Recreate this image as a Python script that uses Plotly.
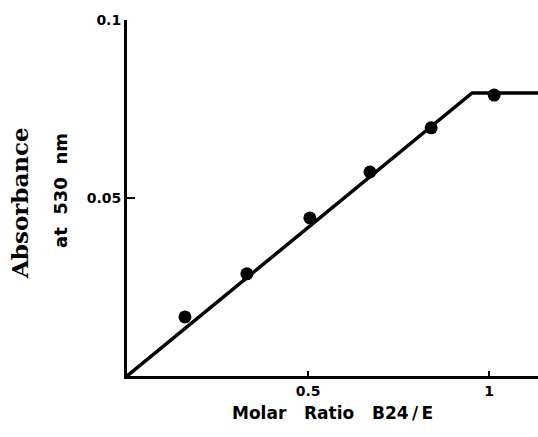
import plotly.graph_objects as go

# Measured points
ratio = [0.160, 0.331, 0.505, 0.671, 0.840, 1.014]
absorb = [0.0166, 0.0287, 0.0444, 0.0573, 0.0697, 0.0789]

# Fitted line (titration break)
line_x = [0.0, 0.953, 1.135]
line_y = [0.0, 0.0795, 0.0795]

x_tickvals = [0.5, 1.0]
x_ticktext = ["0.5", "1"]
y_tickvals = [0.05, 0.1]
y_ticktext = ["0.05", "0.1"]

fig = go.Figure()
fig.add_trace(go.Scatter(x=line_x, y=line_y, mode="lines",
                         line=dict(color="black", width=3.5), showlegend=False))
fig.add_trace(go.Scatter(x=ratio, y=absorb, mode="markers",
                         marker=dict(color="black", size=13), showlegend=False))

tickfont = dict(family="DejaVu Sans", size=14, color="black", weight="bold")
fig.update_xaxes(range=[0, 1.135], tickvals=x_tickvals, ticktext=x_ticktext,
                 ticks="inside", ticklen=5, tickwidth=2, tickcolor="black",
                 showline=True, linecolor="black", linewidth=3,
                 showgrid=False, zeroline=False, tickfont=tickfont)
fig.update_yaxes(range=[0, 0.1], tickvals=y_tickvals, ticktext=y_ticktext,
                 ticks="inside", ticklen=8, tickwidth=2, tickcolor="black",
                 showline=True, linecolor="black", linewidth=3,
                 showgrid=False, zeroline=False, tickfont=tickfont)

fig.add_annotation(text="Absorbance", xref="paper", yref="paper",
                   x=-(127 - 19) / 411, y=(376 - 203) / 356, textangle=-90,
                   showarrow=False, xanchor="center", yanchor="middle",
                   font=dict(family="DejaVu Serif", size=23, color="black", weight="bold"))
fig.add_annotation(text="at&nbsp;&nbsp;530&nbsp;&nbsp;nm", xref="paper", yref="paper",
                   x=-(127 - 60) / 411, y=(376 - 191) / 356, textangle=-90,
                   showarrow=False, xanchor="center", yanchor="middle",
                   font=dict(family="DejaVu Sans", size=18, color="black", weight="bold"))
fig.add_annotation(text="Molar&nbsp;&nbsp;&nbsp;Ratio&nbsp;&nbsp;&nbsp;B24\u2009/\u2009E",
                   xref="paper", yref="paper",
                   x=(332 - 127) / 411, y=-(413 - 376) / 356,
                   showarrow=False, xanchor="center", yanchor="middle",
                   font=dict(family="DejaVu Sans", size=17, color="black", weight="bold"))

fig.update_layout(width=538, height=437, margin=dict(l=127, r=0, t=20, b=61),
                  plot_bgcolor="white", paper_bgcolor="white")
fig.write_html("out.html")
